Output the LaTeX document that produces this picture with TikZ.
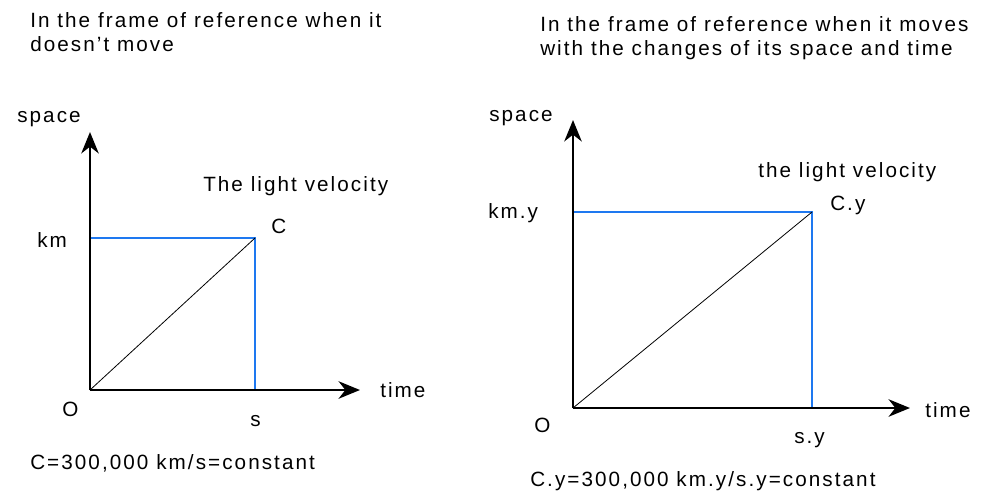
\documentclass[tikz,border=0pt]{standalone}
\usepackage{fontspec}
\setmainfont{Liberation Sans}[LetterSpace=10]
\usetikzlibrary{arrows.meta}
\definecolor{lineblue}{RGB}{30,120,240}
\tikzset{
  lbl/.style={inner sep=0pt, anchor=west, font=\fontsize{15.5}{18}\selectfont},
  axis/.style={line width=2.2pt, -{Stealth[length=16pt,width=13pt,inset=5pt]}},
  guide/.style={lineblue, line width=1.3pt},
  diag/.style={black, line width=0.6pt},
}
\begin{document}
\begin{tikzpicture}[x=0.75pt,y=-0.75pt]
\useasboundingbox (0,0) rectangle (992,497);
% titles
\node[lbl] (t1a) at (30,20) {In the frame of reference when it};
\node[lbl] (t1b) at (30,44) {doesn't move};
\node[lbl] (t2a) at (540,24) {In the frame of reference when it moves};
\node[lbl] (t2b) at (540,50) {with the changes of its space and time};
% left diagram
\coordinate (O1) at (90,390);
\coordinate (Y1) at (90,132);
\coordinate (X1) at (360,390);
\coordinate (P1) at (255,238);
\coordinate (K1) at (90,238);
\coordinate (S1) at (255,390);
\draw[guide] (K1) -- (P1) -- (S1);
\draw[diag] (O1) -- (P1);
\draw[axis] (O1) -- (Y1);
\draw[axis] (O1) -- (X1);
\node[lbl] (sp1) at (17,119) {space};
\node[lbl] (km1) at (37,240) {km};
\node[lbl] (c1) at (271,226) {C};
\node[lbl] (lv1) at (203,186) {The light velocity};
\node[lbl] (tm1) at (380,390) {time};
\node[lbl] (o1) at (62,409) {O};
\node[lbl] (s1) at (250,421) {s};
\node[lbl] (eq1) at (30,463) {C=300,000 km/s=constant};
% right diagram
\coordinate (O2) at (573,408);
\coordinate (Y2) at (573,120);
\coordinate (X2) at (910,408);
\coordinate (P2) at (812,212);
\coordinate (K2) at (573,212);
\coordinate (S2) at (812,408);
\draw[guide] (K2) -- (P2) -- (S2);
\draw[diag] (O2) -- (P2);
\draw[axis] (O2) -- (Y2);
\draw[axis] (O2) -- (X2);
\node[lbl] (sp2) at (489,118) {space};
\node[lbl] (km2) at (488,213) {km.y};
\node[lbl] (c2) at (830,205) {C.y};
\node[lbl] (lv2) at (758,172) {the light velocity};
\node[lbl] (tm2) at (925,410) {time};
\node[lbl] (o2) at (534,425) {O};
\node[lbl] (s2) at (794,440) {s.y};
\node[lbl] (eq2) at (530,481) {C.y=300,000 km.y/s.y=constant};
\end{tikzpicture}
\end{document}
